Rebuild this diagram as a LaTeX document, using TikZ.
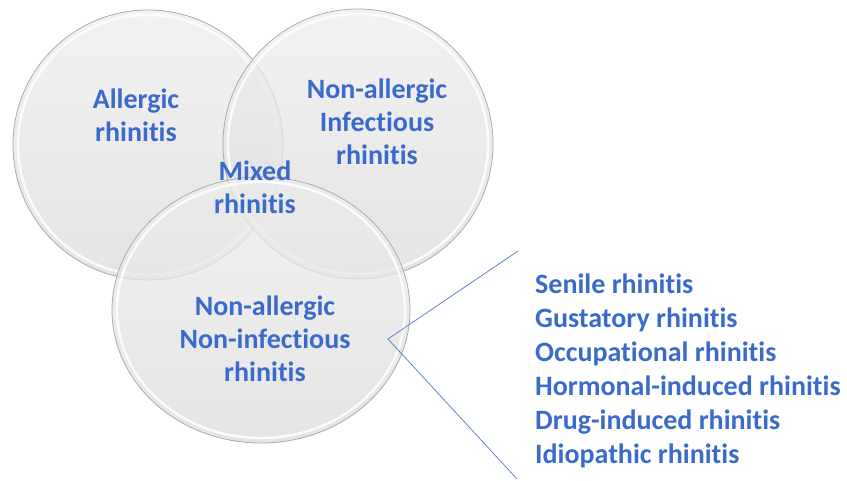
\documentclass[tikz,border=0pt]{standalone}
\usepackage{fontspec}
\setmainfont[Ligatures=NoCommon,RawFeature={-liga;-dlig}]{Carlito}
\usetikzlibrary{positioning}
\definecolor{rhblue}{HTML}{3A6BCC}
\definecolor{rhline}{HTML}{5B87C5}
\definecolor{rhrim}{HTML}{ABABAB}
\tikzset{bubble/.style={top color=gray!14,bottom color=gray!28,fill opacity=.75,draw=rhrim,line width=.8pt},bubblerim/.style={draw=white,line width=2.4pt,draw opacity=.85},bubbletext/.style={text=rhblue,font=\fontsize{28}{33}\selectfont\bfseries,align=center},listtext/.style={text=rhblue,font=\fontsize{28}{34}\selectfont\bfseries,align=left,anchor=north west,inner sep=0pt},pointer/.style={draw=rhline,line width=.8pt}}

\begin{document}
\begin{tikzpicture}[x=1pt,y=-1pt]
\useasboundingbox (0,0) rectangle (847,481);
% three overlapping bubbles
\path[bubble] (148,145) ellipse[x radius=135,y radius=135];
\draw[bubblerim] (148,145) ellipse[x radius=130,y radius=130];
\path[bubble] (358,144) ellipse[x radius=135,y radius=135];
\draw[bubblerim] (358,144) ellipse[x radius=130,y radius=130];
\path[bubble] (261,310) ellipse[x radius=149,y radius=133];
\draw[bubblerim] (261,310) ellipse[x radius=144,y radius=128];
% labels
\node[bubbletext] (allergic) at (136,115) {Allergic\\rhinitis};
\node[bubbletext] (infectious) at (377,122) {Non-allergic\\Infectious\\rhinitis};
\node[bubbletext] (mixed) at (255,187) {Mixed\\rhinitis};
\node[bubbletext] (noninf) at (265,339) {Non-allergic\\Non-infectious\\rhinitis};
% subtypes
\node[listtext] (types) at (535,274) {Senile rhinitis\\Gustatory rhinitis\\Occupational rhinitis\\Hormonal-induced rhinitis\\Drug-induced rhinitis\\Idiopathic rhinitis};
\coordinate (apex) at (388,339);
\coordinate (tipa) at (518,251);
\coordinate (tipb) at (517,479);
\draw[pointer] (tipa) -- (apex) -- (tipb);
\end{tikzpicture}
\end{document}
